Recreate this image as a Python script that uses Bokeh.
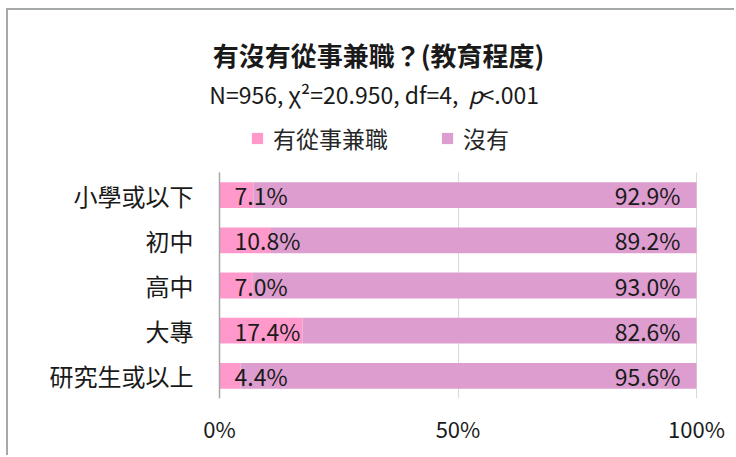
from bokeh.plotting import figure
from bokeh.models import (ColumnDataSource, Range1d, FixedTicker,
                          PrintfTickFormatter, LabelSet, Label)
from bokeh.core.properties import value
from bokeh.embed import file_html
from bokeh.resources import INLINE

# ---- data ----
categories = ["小學或以下", "初中", "高中", "大專", "研究生或以上"]
part_time = [7.1, 10.8, 7.0, 17.4, 4.4]
no_part_time = [92.9, 89.2, 93.0, 82.6, 95.6]
series_names = ["有從事兼職", "沒有"]
x_ticks = [0, 50, 100]
title_text = "有沒有從事兼職？(教育程度)"
subtitle_parts = ["N=956, χ²=20.950, df=4,", "p", "<.001"]

FONT = "Noto Sans CJK TC"
COLORS = ["#FF99CC", "#DD9DCE"]
TXT = "#1a1a1a"

# ---- layout geometry (pixels, relative to the canvas) ----
W, H = 728, 447
PLOT_L, PLOT_R = 211, 688          # where 0% and 100% sit
BORDER_B = 59
BAR_AREA_PX = 226                  # height of the category band area
n = len(categories)
frame_h = H - BORDER_B
unit_px = BAR_AREA_PX / n
y_top = -0.5 + frame_h / unit_px   # room above the bars for title + legend
px_per_pct = (PLOT_R - PLOT_L) / 100.0
x_lo = -PLOT_L / px_per_pct
x_hi = 100 + (W - PLOT_R) / px_per_pct

pos = [n - 1 - i for i in range(n)]   # first category on top
source = ColumnDataSource(dict(
    pos=pos,
    cat=categories,
    yes=part_time,
    no=no_part_time,
    yes_lbl=[f"{v:.1f}%" for v in part_time],
    no_lbl=[f"{v:.1f}%" for v in no_part_time],
    zero=[0] * n,
    total=[a + b for a, b in zip(part_time, no_part_time)],
))

p = figure(width=W, height=H, output_backend="svg", toolbar_location=None,
           x_range=Range1d(x_lo, x_hi), y_range=Range1d(-0.5, y_top),
           min_border_left=0, min_border_right=0,
           min_border_top=0, min_border_bottom=BORDER_B)
p.styles = {"position": "absolute", "left": "6px", "top": "8px",
            "border-left": "2px solid #A5A9A9", "border-top": "2px solid #A5A9A9"}
p.outline_line_color = None

p.hbar_stack(["yes", "no"], y="pos", height=0.57, color=COLORS, line_color=None,
             source=source, legend_label=series_names)

# x axis
p.xaxis.ticker = FixedTicker(ticks=x_ticks)
p.xaxis.formatter = PrintfTickFormatter(format="%d%%")
p.xaxis.axis_line_color = None
p.xaxis.major_tick_line_color = None
p.xaxis.minor_tick_line_color = None
p.xaxis.major_label_text_font = FONT
p.xaxis.major_label_text_font_size = "22px"
p.xaxis.major_label_text_color = TXT
p.xaxis.major_label_standoff = 7

# y axis (category labels), pinned at 0%
p.yaxis.fixed_location = 0
p.yaxis.ticker = FixedTicker(ticks=pos)
p.yaxis.major_label_overrides = {k: c for k, c in zip(pos, categories)}
p.yaxis.bounds = (-0.5, n - 0.5)
p.yaxis.axis_line_color = "#A6A6A6"
p.yaxis.axis_line_width = 1.5
p.yaxis.major_tick_line_color = None
p.yaxis.minor_tick_line_color = None
p.yaxis.major_label_text_font = FONT
p.yaxis.major_label_text_font_size = "24px"
p.yaxis.major_label_text_color = TXT
p.yaxis.major_label_standoff = 20

p.ygrid.grid_line_color = None
p.xgrid.ticker = FixedTicker(ticks=x_ticks)
p.xgrid.grid_line_color = "#D9D9D9"
try:
    p.xgrid.cross_bounds = (-0.5, n - 0.5)
except Exception:
    pass

# bar value labels
p.add_layout(LabelSet(x="zero", y="pos", text="yes_lbl", source=source, x_offset=15,
                      text_align="left", text_baseline="middle", text_font=value(FONT),
                      text_font_size="23px", text_color=TXT))
p.add_layout(LabelSet(x="total", y="pos", text="no_lbl", source=source, x_offset=-16,
                      text_align="right", text_baseline="middle", text_font=value(FONT),
                      text_font_size="23px", text_color=TXT))

# legend
lg = p.legend[0]
lg.orientation = "horizontal"
lg.location = (242, 243)
lg.label_text_font = FONT
lg.label_text_font_size = "23px"
lg.label_text_color = "#262626"
lg.glyph_width = 14
lg.glyph_height = 14
lg.label_standoff = 9
lg.spacing = 52
lg.padding = 0
lg.margin = 0
lg.border_line_alpha = 0
lg.background_fill_alpha = 0

# title + subtitle
def add_text(x, y, text, align, style, size):
    p.add_layout(Label(x=x, y=y, x_units="canvas", y_units="canvas", text=text,
                       text_align=align, text_baseline="middle", text_font=FONT,
                       text_font_size=size, text_font_style=style, text_color=TXT))

add_text(368, 42, title_text, "center", "bold", "26px")
add_text(448, 81, subtitle_parts[0], "right", "normal", "23px")
add_text(458, 81, subtitle_parts[1], "left", "italic", "23px")
add_text(471, 81, subtitle_parts[2], "left", "normal", "23px")

open("out.html", "w").write(file_html(p, INLINE))
